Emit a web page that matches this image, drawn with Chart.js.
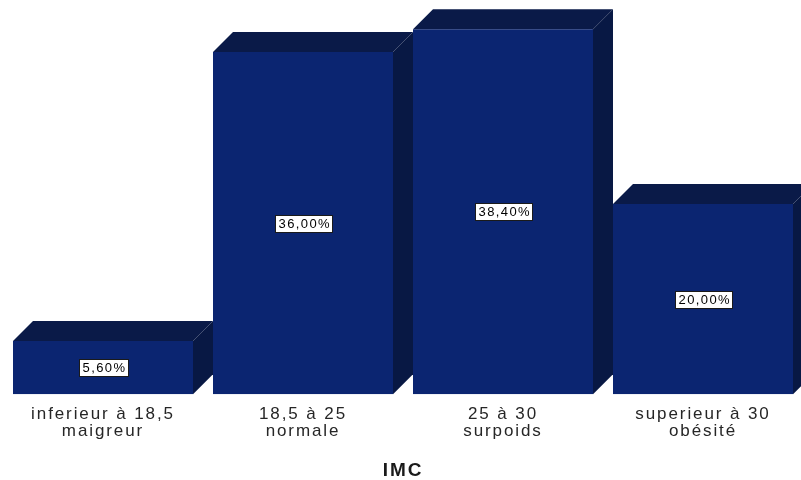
<!DOCTYPE html>
<html>
<head>
<meta charset="utf-8">
<script src="https://cdn.jsdelivr.net/npm/chart.js@4/dist/chart.umd.min.js"></script>
<style>
  html, body { margin: 0; padding: 0; background: #ffffff; overflow: hidden; }
  #wrap { width: 806px; height: 480px; }
</style>
</head>
<body>
<div id="wrap"><canvas id="chart" width="806" height="480"></canvas></div>
<script>
// IMC categories (two-line axis labels)
const categories = [
  ['inferieur à 18,5', 'maigreur'],
  ['18,5 à 25', 'normale'],
  ['25 à 30', 'surpoids'],
  ['superieur à 30', 'obésité']
];
// Share of each IMC class, in percent
const percents = [5.6, 36.0, 38.4, 20.0];
const axisTitle = 'IMC';

const FRONT = '#0b2571';
const TOP = '#0a1a48';
const SIDE = '#081844';
const DEPTH = 20;
const SPACING = '1.9px';

function fmt(v) {
  return v.toFixed(2).replace('.', ',') + '%';
}

// Letter spacing for all canvas text (reset whenever the canvas is resized)
const spacingPlugin = {
  id: 'spacing',
  beforeUpdate(chart) { chart.ctx.letterSpacing = SPACING; },
  beforeDraw(chart) { chart.ctx.letterSpacing = SPACING; }
};

// Top and side faces of each bar, drawn behind the front faces
const depthPlugin = {
  id: 'depth',
  beforeDatasetsDraw(chart) {
    const ctx = chart.ctx;
    const meta = chart.getDatasetMeta(0);
    ctx.save();
    meta.data.forEach(bar => {
      const p = bar.getProps(['x', 'y', 'base', 'width'], true);
      const l = p.x - p.width / 2, r = p.x + p.width / 2;
      const t = p.y, b = p.base;
      ctx.fillStyle = TOP;
      ctx.beginPath();
      ctx.moveTo(l, t);
      ctx.lineTo(l + DEPTH, t - DEPTH);
      ctx.lineTo(r + DEPTH, t - DEPTH);
      ctx.lineTo(r, t);
      ctx.closePath();
      ctx.fill();
      ctx.fillStyle = SIDE;
      ctx.beginPath();
      ctx.moveTo(r, t);
      ctx.lineTo(r + DEPTH, t - DEPTH);
      ctx.lineTo(r + DEPTH, b - DEPTH);
      ctx.lineTo(r, b);
      ctx.closePath();
      ctx.fill();
    });
    ctx.restore();
  }
};

// Value boxes in the middle of each bar
const valueLabelPlugin = {
  id: 'valueLabels',
  afterDatasetsDraw(chart) {
    const ctx = chart.ctx;
    const meta = chart.getDatasetMeta(0);
    const values = chart.data.datasets[0].data;
    ctx.save();
    ctx.letterSpacing = '1.4px';
    ctx.font = '13px "Liberation Sans", Arial, sans-serif';
    ctx.textAlign = 'left';
    ctx.textBaseline = 'middle';
    meta.data.forEach((bar, i) => {
      const p = bar.getProps(['x', 'y', 'base'], true);
      const cy = (p.y + p.base) / 2;
      const text = fmt(values[i]);
      const w = Math.round(ctx.measureText(text).width + 5);
      const h = 17;
      const bx = Math.round(p.x - w / 2) + 0.5;
      const by = Math.round(cy - h / 2) + 0.5;
      ctx.fillStyle = '#ffffff';
      ctx.fillRect(bx, by, w, h);
      ctx.strokeStyle = '#1a1a1a';
      ctx.lineWidth = 1;
      ctx.strokeRect(bx, by, w, h);
      ctx.fillStyle = '#000000';
      ctx.fillText(text, bx + 3, by + h / 2 + 0.5);
    });
    ctx.restore();
  }
};

new Chart(document.getElementById('chart'), {
  type: 'bar',
  data: {
    labels: categories,
    datasets: [{
      data: percents,
      backgroundColor: FRONT,
      borderWidth: 0,
      barPercentage: 1.0,
      categoryPercentage: 0.9
    }]
  },
  options: {
    responsive: false,
    animation: false,
    devicePixelRatio: 1,
    layout: { padding: { left: 3, right: 3, top: 14, bottom: -2 } },
    plugins: { legend: { display: false }, tooltip: { enabled: false } },
    scales: {
      x: {
        grid: { display: false, drawTicks: false },
        border: { display: false },
        ticks: {
          padding: 12,
          color: '#262626',
          font: { family: '"Liberation Sans", Arial, sans-serif', size: 17, lineHeight: 1.0 },
          maxRotation: 0,
          autoSkip: false
        },
        title: {
          display: true,
          text: axisTitle,
          color: '#1a1a1a',
          font: { family: '"Liberation Sans", Arial, sans-serif', size: 19, weight: 'bold', lineHeight: 1.2 },
          padding: { top: 7, bottom: 0 }
        }
      },
      y: {
        display: false,
        min: 0,
        max: 40
      }
    }
  },
  plugins: [spacingPlugin, depthPlugin, valueLabelPlugin]
});
</script>
</body>
</html>
